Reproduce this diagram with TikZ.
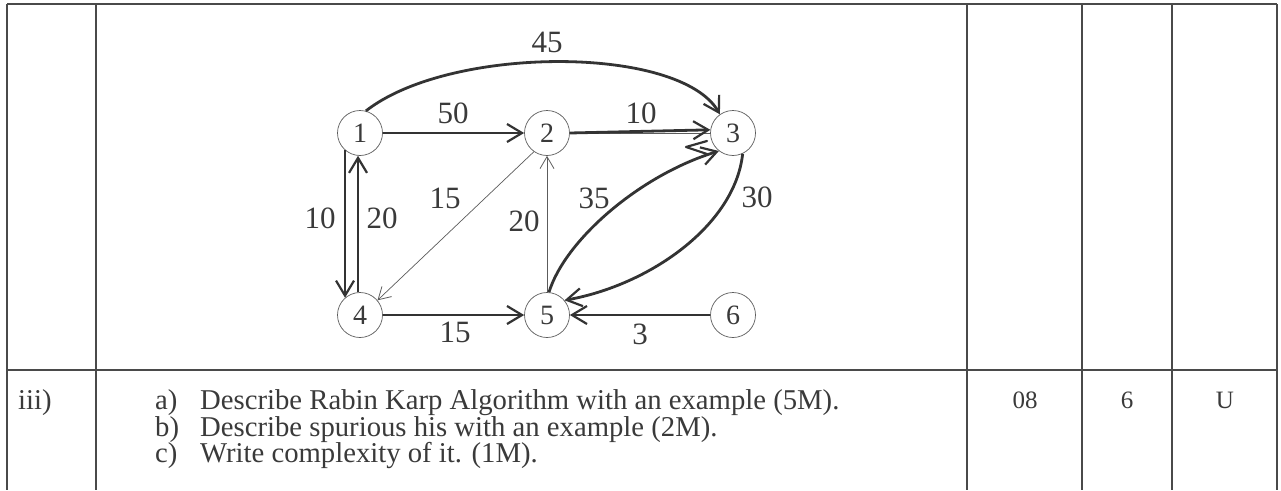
\documentclass[tikz,border=0pt]{standalone}
\usepackage{fontspec}
\setmainfont{Liberation Serif}
\usetikzlibrary{arrows.meta}
\definecolor{ink}{HTML}{333333}
\definecolor{pen}{HTML}{3A3A3A}
\definecolor{rule}{HTML}{4A4A4A}
\tikzset{
  vertex/.style={circle, draw=ink!80, line width=0.7pt, minimum size=45pt, inner sep=0pt,
    text=pen, font=\fontsize{28pt}{30pt}\selectfont},
  elabel/.style={text=pen, inner sep=0pt, font=\fontsize{31pt}{33pt}\selectfont},
  tipstyle/.style={-{Straight Barb[length=15pt,width=18pt,line width=2.2pt]}},
  thinedge/.style={draw=ink!80, line width=0.7pt, -{Straight Barb[length=12pt,width=14pt,line width=0.8pt]}},
  thickedge/.style={draw=ink, line width=2.8pt, tipstyle},
  tabline/.style={draw=rule, line width=1.4pt},
  cell/.style={text=pen, inner sep=0pt, anchor=base west, font=\fontsize{28.7pt}{30pt}\selectfont},
  markcell/.style={text=pen, inner sep=0pt, anchor=base, font=\fontsize{25pt}{27pt}\selectfont}
}
\begin{document}
\begin{tikzpicture}[x=1pt,y=-1pt]
\useasboundingbox[fill=white] (0,0) rectangle (1281,490);
% table
\draw[tabline] (7,4) -- (1277,4);
\draw[tabline] (7,370) -- (1277,370);
\foreach \xx in {7,96,967,1082,1172,1277} \draw[tabline] (\xx,4) -- (\xx,490);
% graph nodes
\node[vertex] (n1) at (360,133) {1};
\node[vertex] (n2) at (547,133) {2};
\node[vertex] (n3) at (733,133) {3};
\node[vertex] (n4) at (360,315) {4};
\node[vertex] (n5) at (547,315) {5};
\node[vertex] (n6) at (733,315) {6};
% edges
\draw[thickedge] (n1.75) .. controls (450,45) and (680,45) .. (n3.125);
\draw[thickedge] (n1.east) -- (n2.west);
\draw[ink!80, line width=0.7pt] (n2.east) -- (n3.west);
\draw[thickedge] (n2.east) -- (n3.172);
\draw[ink, line width=2.2pt, line cap=round, line join=round] (707,141) -- (686,147) -- (707,154);
\draw[thickedge] (n1.229) -- (n4.131);
\draw[thickedge] (n4.95) -- (n1.265);
\draw[thinedge] (n2.235) -- (n4.40);
\draw[thinedge] (n5.north) -- (n2.south);
\draw[thickedge] (n5.85) .. controls (565,240) and (640,175) .. (n3.232);
\draw[thickedge] (n3.-65) .. controls (735,225) and (650,285) .. (n5.40);
\draw[thickedge] (n4.east) -- (n5.west);
\draw[thickedge] (n6.west) -- (n5.east);
% edge labels
\node[elabel] (l45) at (547,42) {45};
\node[elabel] (l50) at (453,113) {50};
\node[elabel] (l10a) at (641,113) {10};
\node[elabel] (l15a) at (445,198) {15};
\node[elabel] (l35) at (594,198) {35};
\node[elabel] (l30) at (757,197) {30};
\node[elabel] (l10b) at (320,218) {10};
\node[elabel] (l20a) at (382,218) {20};
\node[elabel] (l20b) at (524,221) {20};
\node[elabel] (l15b) at (455,332) {15};
\node[elabel] (l3) at (640,334) {3};
% second row
\node[cell] (iii) at (18,409) {iii)};
\node[cell] (qa) at (155,409) {a)};
\node[cell] (ta) at (200,409) {Describe Rabin Karp Algorithm with an example (5M).};
\node[cell] (qb) at (155,436) {b)};
\node[cell] (tb) at (200,436) {Describe spurious his with an example (2M).};
\node[cell] (qc) at (155,462) {c)};
\node[cell] (tc) at (200,462) {Write complexity of it. (1M).};
\node[markcell] (m08) at (1025,408) {08};
\node[markcell] (m6) at (1127,408) {6};
\node[markcell] (mU) at (1225,408) {U};
\end{tikzpicture}
\end{document}
